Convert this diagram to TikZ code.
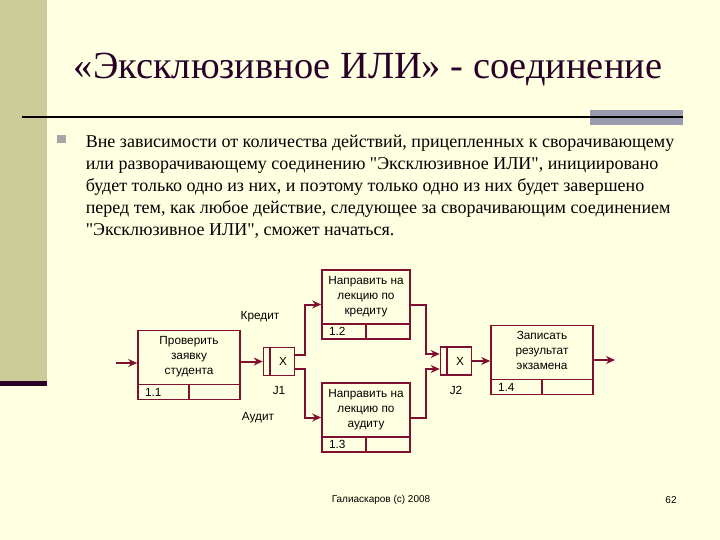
\documentclass[tikz,border=0pt]{standalone}
\usepackage{fontspec}
\setmainfont{Liberation Serif}
\newfontfamily\timesfont{Liberation Serif}
\newfontfamily\arialfont{Liberation Sans}
\usetikzlibrary{arrows.meta,positioning}
\definecolor{slidebg}{RGB}{255,255,225}
\definecolor{sidebar}{RGB}{204,204,153}
\definecolor{idefred}{RGB}{128,16,48}
\definecolor{darkplum}{RGB}{40,0,40}
\definecolor{rulebar}{RGB}{155,155,175}
\def\stripheight{15pt}

\begin{document}
\begin{tikzpicture}[x=1pt,y=-1pt,>={Stealth[length=9pt,width=8pt]},line width=1.6pt]
    \tikzstyle{box}=[draw=idefred,minimum height=69pt,inner sep=0pt]
    \tikzstyle{boxtext}=[font=\arialfont\fontsize{11.8}{15}\selectfont,align=center,inner sep=0pt]
    \tikzstyle{cell}=[draw=idefred,minimum height=\stripheight,inner sep=0pt]
    \tikzstyle{numcell}=[cell,font=\arialfont\fontsize{11.8}{12}\selectfont,align=left]
    \tikzstyle{junction}=[draw=idefred,minimum width=31pt,minimum height=28pt,inner sep=0pt]
    \tikzstyle{flow}=[->,draw=idefred,line width=2pt]
    \tikzstyle{annot}=[font=\arialfont\fontsize{11.8}{12}\selectfont]

    \useasboundingbox (0,0) rectangle (720,540);

    % Draw the slide background
    \fill[slidebg] (0,0) rectangle (720,540);
    \fill[sidebar] (0,0) rectangle (47,381);
    \fill[darkplum] (0,381) rectangle (47,386);
    \fill[rulebar] (590,110) rectangle (683,125);
    \draw[black,line width=2pt] (22,117) -- (683,117);
    \fill[gray!70] (57,135) rectangle (66,143);

    % Title and text
    \node[font=\timesfont\fontsize{38.4}{42}\selectfont,text=darkplum] (title) at (368,70)
        {«Эксклюзивное ИЛИ» - соединение};
    \node[font=\timesfont\fontsize{18}{22}\selectfont,align=left,inner sep=0pt,anchor=north west] (body) at (85,134)
        {Вне зависимости от количества действий, прицепленных к сворачивающему\\
         или разворачивающему соединению \textquotedbl Эксклюзивное ИЛИ\textquotedbl, инициировано\\
         будет только одно из них, и поэтому только одно из них будет завершено\\
         перед тем, как любое действие, следующее за сворачивающим соединением\\
         \textquotedbl Эксклюзивное ИЛИ\textquotedbl, сможет начаться.};

    % Draw the activity boxes
    \foreach \id/\num/\x/\y/\w/\txt in {
        11/1.1/189/365/102/{Проверить\\заявку\\студента},
        12/1.2/366/304.5/88/{Направить на\\лекцию по\\кредиту},
        13/1.3/366/417.5/88/{Направить на\\лекцию по\\аудиту},
        14/1.4/542/360/102/{Записать\\результат\\экзамена}}
    {
        \node[box,minimum width=\w pt] (B\id) at (\x,\y) {};
        \node[boxtext,below=6pt of B\id.north] (T\id) {\txt};
        \node[numcell,text width={\w*0.5pt-14pt},inner xsep=7pt,anchor=south west] (N\id) at (B\id.south west) {\num};
        \node[cell,minimum width={\w*0.5pt},anchor=south east] (E\id) at (B\id.south east) {};
    }

    % Draw the junctions
    \foreach \name/\x/\y in {J1/279/361.5, J2/456/361}
    {
        \node[junction,label={[annot,label distance=6pt]below:\name}] (\name) at (\x,\y) {};
        \node[annot] (\name-x) at ([xshift=4pt]\name.center) {X};
        \draw[idefred] ([xshift=7pt]\name.north west) -- ([xshift=7pt]\name.south west);
    }

    % Connect the boxes and the junctions
    \coordinate (in) at (116,363);
    \coordinate (out) at (615,360);
    \draw[flow] (in) -- (in -| B11.west);
    \draw[flow] (B11.east |- J1.west) -- (J1.west);
    \draw[flow] ([yshift=7pt]J1.east) -- ++(10,0) |- (B12.west);
    \draw[flow] ([yshift=-7pt]J1.east) -- ++(10,0) |- (B13.west);
    \draw[flow] (B12.east) -- ++(15,0) |- ([yshift=7pt]J2.west);
    \draw[flow] (B13.east) -- ++(15,0) |- ([yshift=-8pt]J2.west);
    \draw[flow] (J2.east) -- (J2.east -| B14.west);
    \draw[flow] (B14.east) -- (out);

    % Annotate the branches
    \node[annot] (credit) at (260,317) {Кредит};
    \node[annot] (audit) at (258,418) {Аудит};

    % Footer
    \node[font=\arialfont\fontsize{10}{11}\selectfont] (author) at (381,500) {Галиаскаров (c) 2008};
    \node[font=\arialfont\fontsize{10}{11}\selectfont] (page) at (671,500) {62};
\end{tikzpicture}
\end{document}
